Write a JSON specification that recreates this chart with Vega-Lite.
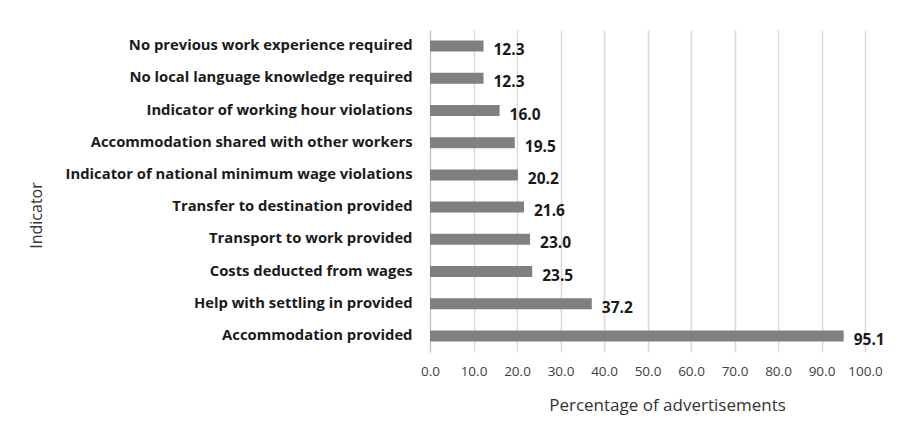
{
  "$schema": "https://vega.github.io/schema/vega-lite/v6.json",
  "autosize": {"type": "none"},
  "width": 435,
  "height": 322,
  "padding": {"left": 430, "top": 30, "right": 38, "bottom": 86},
  "background": "white",
  "data": {
    "values": [
      {"indicator": "No previous work experience required", "pct": 12.3},
      {"indicator": "No local language knowledge required", "pct": 12.3},
      {"indicator": "Indicator of working hour violations", "pct": 16.0},
      {"indicator": "Accommodation shared with other workers", "pct": 19.5},
      {"indicator": "Indicator of national minimum wage violations", "pct": 20.2},
      {"indicator": "Transfer to destination provided", "pct": 21.6},
      {"indicator": "Transport to work provided", "pct": 23.0},
      {"indicator": "Costs deducted from wages", "pct": 23.5},
      {"indicator": "Help with settling in provided", "pct": 37.2},
      {"indicator": "Accommodation provided", "pct": 95.1}
    ]
  },
  "encoding": {
    "y": {
      "field": "indicator",
      "type": "nominal",
      "sort": null,
      "title": "Indicator",
      "axis": {
        "domain": true,
        "domainColor": "#bfbfbf",
        "ticks": false,
        "grid": false,
        "labelFont": "Open Sans",
        "labelFontWeight": "bold",
        "labelFontSize": 14.8,
        "labelColor": "#1a1a1a",
        "labelPadding": 18,
        "labelLimit": 500,
        "titleFont": "Open Sans",
        "titleFontWeight": "normal",
        "titleFontSize": 16,
        "titleColor": "#333333",
        "titleAngle": -90,
        "titleAlign": "center",
        "titleBaseline": "middle",
        "titleX": -394,
        "titleY": 185
      }
    },
    "x": {
      "field": "pct",
      "type": "quantitative",
      "scale": {"domain": [0, 100], "nice": false},
      "title": "Percentage of advertisements",
      "axis": {
        "values": [0, 10, 20, 30, 40, 50, 60, 70, 80, 90, 100],
        "format": ".1f",
        "labelOverlap": false,
        "labelFlush": false,
        "domain": false,
        "ticks": false,
        "grid": true,
        "gridColor": "#d9d9d9",
        "gridWidth": 1.5,
        "labelFont": "Open Sans",
        "labelFontSize": 13.5,
        "labelColor": "#404040",
        "labelPadding": 12,
        "titleFont": "Open Sans",
        "titleFontWeight": "normal",
        "titleFontSize": 17,
        "titleColor": "#333333",
        "titlePadding": 20,
        "titleX": 237,
        "titleAlign": "center"
      }
    }
  },
  "layer": [
    {
      "mark": {"type": "bar", "color": "#808080", "height": 11}
    },
    {
      "mark": {
        "type": "text",
        "align": "left",
        "baseline": "middle",
        "dx": 10,
        "dy": 4,
        "font": "Open Sans",
        "fontWeight": "bold",
        "fontSize": 15.5,
        "color": "#1a1a1a"
      },
      "encoding": {
        "text": {"field": "pct", "type": "quantitative", "format": ".1f"}
      }
    }
  ],
  "config": {
    "view": {"stroke": null}
  }
}
